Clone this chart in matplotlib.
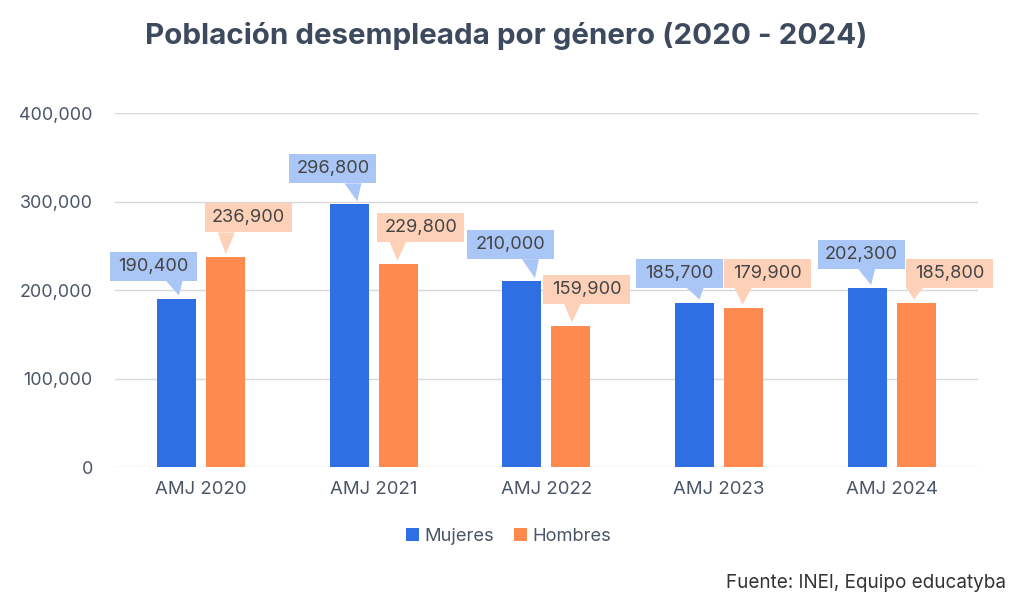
import matplotlib.pyplot as plt
import matplotlib.transforms as mtransforms
from matplotlib.patches import Polygon
import numpy as np

plt.rcParams['font.family'] = ['Inter', 'DejaVu Sans']

categorias = ['AMJ 2020', 'AMJ 2021', 'AMJ 2022', 'AMJ 2023', 'AMJ 2024']
mujeres = [190400, 296800, 210000, 185700, 202300]
hombres = [236900, 229800, 159900, 179900, 185800]

# ubicacion de las etiquetas (px): borde izq. de la caja, separacion sobre la barra, punta
caja_muj = [(-67, 18, 2), (-60, 21, 8), (-55, 22, 13), (-59, 15, 5), (-49, 19, 4)]
caja_hom = [(-21, 25, 0), (-21, 22, -1), (-28, 22, 1), (-20, 20, -1), (-10, 15, -2)]

c_muj = '#2f6fe4'
c_hom = '#ff8a4f'
c_muj_lbl = '#a9c6f7'
c_hom_lbl = '#fdd0b8'
c_txt = '#4a5568'

fig = plt.figure(figsize=(10.24, 6.08), dpi=100)
ax = fig.add_axes([0.1123, 0.2319, 0.8427, 0.5822])

x = np.arange(len(categorias))
w = 0.226
off = 0.142
ax.bar(x - off, mujeres, w, color=c_muj, label='Mujeres', zorder=3)
ax.bar(x + off, hombres, w, color=c_hom, label='Hombres', zorder=3)

ax.set_xlim(-0.5, 4.5)
ax.set_ylim(0, 400000)
yt = [0, 100000, 200000, 300000, 400000]
ax.set_yticks(yt)
ax.set_yticklabels(['{:,}'.format(v) for v in yt])
ax.set_xticks(x)
ax.set_xticklabels(categorias)
ax.tick_params(length=0, labelsize=13.4, colors=c_txt, pad=10)
ax.tick_params(axis='y', pad=16, labelsize=12.9)
ax.grid(axis='y', color='#d9d9d9', linewidth=1, zorder=0)
for s in ax.spines.values():
    s.set_visible(False)


def callout(xv, yv, texto, color, lay, lado):
    # caja con puntero, en pixeles relativos a la cima de la barra (dpi=100)
    tr = fig.dpi_scale_trans + mtransforms.ScaledTranslation(xv, yv, ax.transData)
    dx, gap, tip = lay
    x0, x1 = dx, dx + 87
    y0, y1 = gap, gap + 29
    if lado == 'izq':
        tri = [(tip, 3), (tip - 13, y0), (tip + 4, y0)]
    else:
        tri = [(tip, 3), (tip - 8, y0), (tip + 9, y0)]
    caja = [(x0, y0), (x1, y0), (x1, y1), (x0, y1)]
    ax.add_patch(Polygon(np.array(caja) / 100, closed=True, transform=tr,
                         facecolor=color, edgecolor='none', zorder=4, clip_on=False))
    ax.add_patch(Polygon(np.array(tri) / 100, closed=True, transform=tr,
                         facecolor=color, edgecolor='none', zorder=4, clip_on=False))
    ax.text((x0 + x1) / 200, (y0 + y1) / 200, texto, transform=tr, ha='center',
            va='center', fontsize=13.1, color='#444444', zorder=5)


for i in range(len(categorias)):
    callout(x[i] - off, mujeres[i], '{:,}'.format(mujeres[i]), c_muj_lbl, caja_muj[i], 'izq')
    callout(x[i] + off, hombres[i], '{:,}'.format(hombres[i]), c_hom_lbl, caja_hom[i], 'der')

fig.text(0.494, 0.94, 'Población desempleada por género (2020 - 2024)',
         ha='center', va='center', fontsize=21.3, fontweight='bold', color='#3d4a5e')

fig.legend(loc='center', bbox_to_anchor=(0.497, 0.118), ncol=2, frameon=False,
           fontsize=13.2, handlelength=0.7, handleheight=0.7, handletextpad=0.3,
           columnspacing=1.1, labelcolor=c_txt)

fig.text(0.982, 0.041, 'Fuente: INEI, Equipo educatyba', ha='right', va='center',
         fontsize=13.6, color='#333333')

fig.savefig('out.png', dpi=100, facecolor='white')
